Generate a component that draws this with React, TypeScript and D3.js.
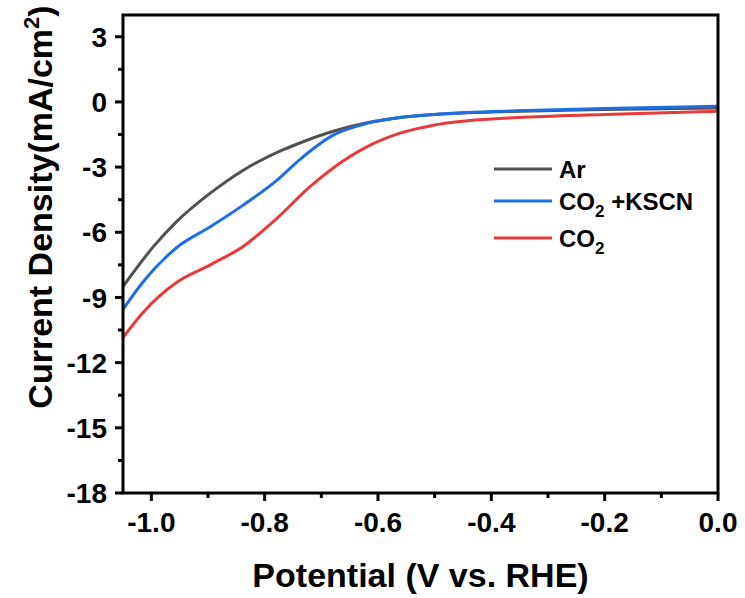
import React from "react";
import * as d3 from "d3";

const arPotential = [-1.05, -0.996, -0.955, -0.896, -0.837, -0.767, -0.737, -0.679, -0.619, -0.561, -0.5, -0.44, -0.35, -0.2, 0];
const arCurrent = [-8.5, -6.65, -5.5, -4.2, -3.13, -2.2, -1.88, -1.35, -0.96, -0.72, -0.58, -0.5, -0.43, -0.35, -0.28];
const kscnPotential = [-1.05, -1.015, -0.955, -0.896, -0.838, -0.778, -0.737, -0.679, -0.619, -0.561, -0.502, -0.442, -0.354, -0.2, 0];
const kscnCurrent = [-9.55, -8.3, -6.7, -5.75, -4.75, -3.6, -2.63, -1.53, -0.99, -0.72, -0.58, -0.49, -0.41, -0.3, -0.2];
const co2Potential = [-1.05, -1.015, -0.955, -0.896, -0.838, -0.778, -0.72, -0.679, -0.619, -0.561, -0.502, -0.442, -0.354, -0.2, 0];
const co2Current = [-10.85, -9.7, -8.3, -7.5, -6.65, -5.35, -3.9, -3.04, -2.06, -1.44, -1.07, -0.87, -0.72, -0.58, -0.43];

const xTicks = [-1.0, -0.8, -0.6, -0.4, -0.2, 0.0];
const xMinor = [-0.9, -0.7, -0.5, -0.3, -0.1];
const yTicks = [3, 0, -3, -6, -9, -12, -15, -18];
const yMinor = [1.5, -1.5, -4.5, -7.5, -10.5, -13.5, -16.5];

const series = [
  { name: "Ar", xs: arPotential, ys: arCurrent, color: "#505050" },
  { name: "CO2 +KSCN", xs: kscnPotential, ys: kscnCurrent, color: "#1c6fe3" },
  { name: "CO2", xs: co2Potential, ys: co2Current, color: "#e8393c" },
];

const W = 745, H = 598;
const L = 123, R = 718, T = 15, B = 493;
const FONT = "Liberation Sans, Arial, sans-serif";

export default function App() {
  const x = d3.scaleLinear().domain([-1.05, 0]).range([L, R]);
  const y = d3.scaleLinear().domain([-18, 4]).range([B, T]);
  const line = d3
    .line<[number, number]>()
    .x((d) => x(d[0]))
    .y((d) => y(d[1]))
    .curve(d3.curveMonotoneX);

  const legendY = [169, 201, 238];

  return (
    <svg width={W} height={H} style={{ position: "absolute", left: 0, top: 0, background: "#fff" }} fontFamily={FONT}>
      <rect x={0} y={0} width={W} height={H} fill="#fff" />
      {series.map((s) => (
        <path
          key={s.name}
          d={line(s.xs.map((p, i) => [p, s.ys[i]] as [number, number])) || ""}
          fill="none"
          stroke={s.color}
          strokeWidth={3}
        />
      ))}
      {/* frame */}
      <rect x={L} y={T} width={R - L} height={B - T} fill="none" stroke="#000" strokeWidth={3} />
      {/* y ticks */}
      {yTicks.map((t) => (
        <g key={"y" + t}>
          <line x1={L - 8} x2={L} y1={y(t)} y2={y(t)} stroke="#000" strokeWidth={3} />
          <text x={107} y={y(t)} dy="0.36em" textAnchor="end" fontSize={28} fontWeight="bold">
            {t}
          </text>
        </g>
      ))}
      {yMinor.map((t) => (
        <line key={"ym" + t} x1={L - 5} x2={L} y1={y(t)} y2={y(t)} stroke="#000" strokeWidth={3} />
      ))}
      {/* x ticks */}
      {xTicks.map((t) => (
        <g key={"x" + t}>
          <line x1={x(t)} x2={x(t)} y1={B} y2={B + 8} stroke="#000" strokeWidth={3} />
          <text x={x(t)} y={532} textAnchor="middle" fontSize={28} fontWeight="bold">
            {t.toFixed(1)}
          </text>
        </g>
      ))}
      {xMinor.map((t) => (
        <line key={"xm" + t} x1={x(t)} x2={x(t)} y1={B} y2={B + 5} stroke="#000" strokeWidth={3} />
      ))}
      {/* axis titles */}
      <text x={(L + R) / 2} y={587} textAnchor="middle" fontSize={34} fontWeight="bold">
        Potential (V vs. RHE)
      </text>
      <text
        transform={`translate(52, 207) rotate(-90)`}
        textAnchor="middle"
        fontSize={34}
        fontWeight="bold"
      >
        Current Density(mA/cm<tspan dy={-13} fontSize={22}>2</tspan><tspan dy={13}>)</tspan>
      </text>
      {/* legend */}
      {series.map((s, i) => (
        <g key={"lg" + s.name}>
          <line x1={494} x2={552} y1={legendY[i]} y2={legendY[i]} stroke={s.color} strokeWidth={3} />
          <text x={559} y={legendY[i]} dy="0.36em" fontSize={24} fontWeight="bold">
            {s.name.startsWith("CO2") ? (
              <>
                CO<tspan dy={7} fontSize={17}>2</tspan>
                <tspan dy={-7}>{s.name.slice(3)}</tspan>
              </>
            ) : (
              s.name
            )}
          </text>
        </g>
      ))}
    </svg>
  );
}
